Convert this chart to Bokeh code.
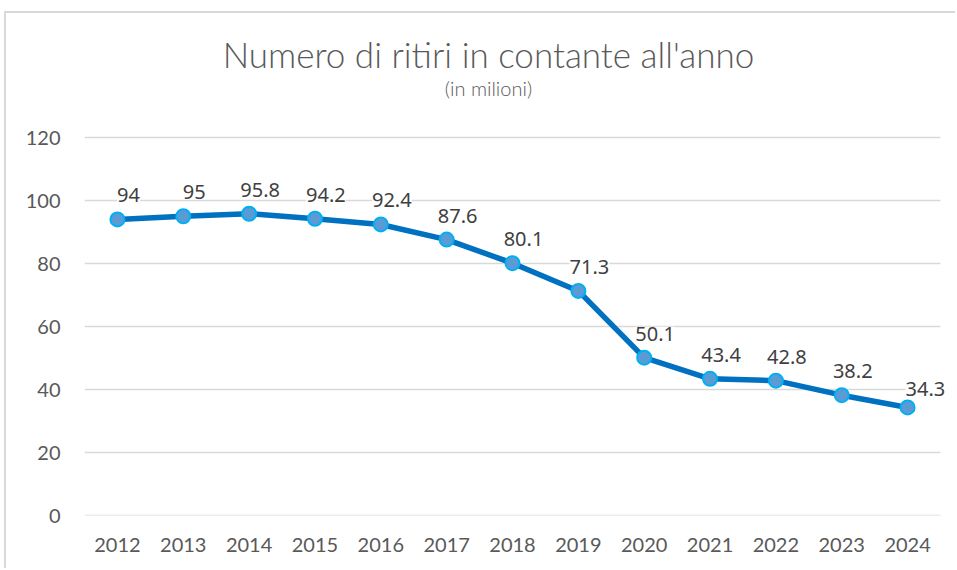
from bokeh.plotting import figure
from bokeh.models import ColumnDataSource, LabelSet, Label, Range1d, FixedTicker
from bokeh.core.properties import value
from bokeh.embed import file_html
from bokeh.resources import INLINE

years = ["2012", "2013", "2014", "2015", "2016", "2017", "2018", "2019",
         "2020", "2021", "2022", "2023", "2024"]
withdrawals = [94, 95, 95.8, 94.2, 92.4, 87.6, 80.1, 71.3, 50.1, 43.4, 42.8, 38.2, 34.3]
labels = ["94", "95", "95.8", "94.2", "92.4", "87.6", "80.1", "71.3",
          "50.1", "43.4", "42.8", "38.2", "34.3"]
y_ticks = [0, 20, 40, 60, 80, 100, 120]
title_text = "Numero di ritiri in contante all'anno"
subtitle_text = "(in milioni)"

idx = list(range(len(years)))
n = len(years)
src = ColumnDataSource(dict(x=idx, y=withdrawals, lab=labels))
src_main = ColumnDataSource(dict(x=idx[:-1], y=withdrawals[:-1], lab=labels[:-1]))
src_last = ColumnDataSource(dict(x=idx[-1:], y=withdrawals[-1:], lab=labels[-1:]))
grid_src = ColumnDataSource(dict(x0=[-0.5] * len(y_ticks), x1=[n - 0.5] * len(y_ticks),
                                 y=y_ticks))

# frame: 871 px wide (856 px for the 13 categories + room for last label)
p = figure(x_range=Range1d(-0.5, n - 0.5 + 15 / 65.846), y_range=Range1d(0, 159.37),
           width=951, height=557, output_backend="svg", toolbar_location=None,
           min_border_left=78, min_border_right=2, min_border_top=0, min_border_bottom=55,
           styles={"border-left": "2px solid #d9d9d9", "border-top": "2px solid #d9d9d9",
                   "margin-left": "4px", "margin-top": "11px"})
p.outline_line_color = None
p.background_fill_color = "white"
p.border_fill_color = "white"

p.xgrid.grid_line_color = None
p.ygrid.grid_line_color = None

p.segment(x0="x0", x1="x1", y0="y", y1="y", source=grid_src,
          line_color="#d9d9d9", line_width=1.5)

p.yaxis.ticker = FixedTicker(ticks=y_ticks)
p.xaxis.ticker = FixedTicker(ticks=idx)
p.xaxis.major_label_overrides = {i: y for i, y in zip(idx, years)}
for ax in (p.xaxis[0], p.yaxis[0]):
    ax.major_tick_line_color = None
    ax.minor_tick_line_color = None
    ax.axis_line_color = None
    ax.major_label_text_color = "#595959"
    ax.major_label_text_font = "Lato"
    ax.major_label_text_font_size = "20px"
p.xaxis.major_label_standoff = 16
p.yaxis.major_label_standoff = 18

p.line("x", "y", source=src, line_color="#0070c0", line_width=5.5)
p.scatter("x", "y", source=src, size=14, fill_color="#5b9bd5",
          line_color="#00b0f0", line_width=2)

lab_main = LabelSet(x="x", y="y", text="lab", source=src_main, text_align="center",
                    text_baseline="middle", x_offset=11, y_offset=24,
                    text_font=value("Noto Sans"),
                    text_font_size=value("20px"), text_color="#404040",
                    background_fill_color="white")
lab_last = LabelSet(x="x", y="y", text="lab", source=src_last, text_align="left",
                    text_baseline="middle", x_offset=-2, y_offset=18,
                    text_font=value("Noto Sans"),
                    text_font_size=value("20px"), text_color="#404040",
                    background_fill_color="white")
p.add_layout(lab_main)
p.add_layout(lab_last)

t_main = Label(x=5.635, y=146.4, text=title_text, text_align="center",
               text_baseline="middle", text_font="Lato Light, Lato",
               text_font_size="35px", text_color="#595959")
t_sub = Label(x=5.635, y=135.6, text=subtitle_text, text_align="center",
              text_baseline="middle", text_font="Lato Light, Lato",
              text_font_size="20px", text_color="#595959")
p.add_layout(t_main)
p.add_layout(t_sub)

open("out.html", "w").write(file_html(p, INLINE))
